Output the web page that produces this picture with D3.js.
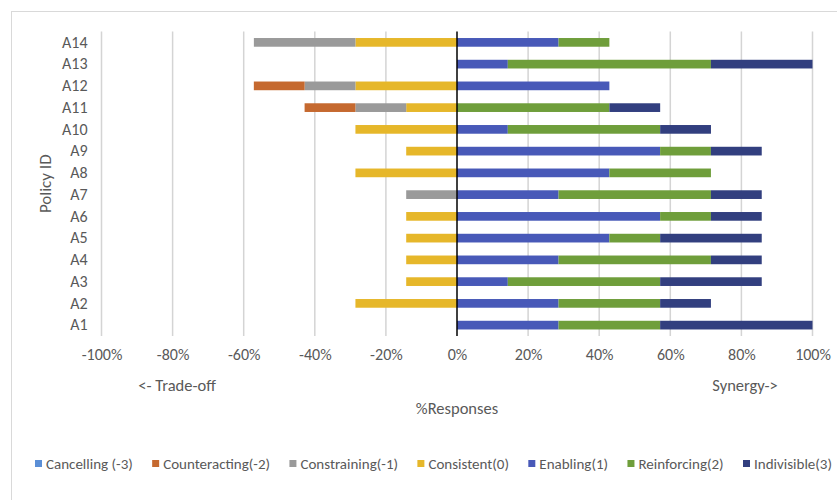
<!DOCTYPE html>
<html>
<head>
<meta charset="utf-8">
<script src="https://cdn.jsdelivr.net/npm/d3@7"></script>
<style>
  html, body { margin: 0; padding: 0; background: #fff; }
  svg text { font-family: Carlito, Lato, "Liberation Sans", sans-serif; fill: #595959; }
</style>
</head>
<body>
<svg id="chart" width="837" height="500"></svg>
<script>
// Policy IDs, bottom (A1) to top (A14)
const policies = ["A1","A2","A3","A4","A5","A6","A7","A8","A9","A10","A11","A12","A13","A14"];

// Share of responses (%) per interaction type, in policy order
const cancelling    = [0, 0, 0, 0, 0, 0, 0, 0, 0, 0, 0, 0, 0, 0];
const counteracting = [0, 0, 0, 0, 0, 0, 0, 0, 0, 0, 14.29, 14.29, 0, 0];
const constraining  = [0, 0, 0, 0, 0, 0, 14.29, 0, 0, 0, 14.29, 14.29, 0, 28.57];
const consistent    = [0, 28.57, 14.29, 14.29, 14.29, 14.29, 0, 28.57, 14.29, 28.57, 14.29, 28.57, 0, 28.57];
const enabling      = [28.57, 28.57, 14.29, 28.57, 42.86, 57.14, 28.57, 42.86, 57.14, 14.29, 0, 42.86, 14.29, 28.57];
const reinforcing   = [28.57, 28.57, 42.86, 42.86, 14.29, 14.29, 42.86, 28.57, 14.29, 42.86, 42.86, 0, 57.14, 14.29];
const indivisible   = [42.86, 14.29, 28.57, 14.29, 28.57, 14.29, 14.29, 0, 14.29, 14.29, 14.29, 0, 28.57, 0];

const xTicks = [-100, -80, -60, -40, -20, 0, 20, 40, 60, 80, 100];

// Negative side stacks outward from zero: Consistent, Constraining, Counteracting, Cancelling
const series = [
  { name: "Cancelling (-3)",   values: cancelling,    color: "#5b8fd6", side: -1, order: 3 },
  { name: "Counteracting(-2)", values: counteracting, color: "#c5692f", side: -1, order: 2 },
  { name: "Constraining(-1)",  values: constraining,  color: "#9a9a9a", side: -1, order: 1 },
  { name: "Consistent(0)",     values: consistent,    color: "#e6b72a", side: -1, order: 0 },
  { name: "Enabling(1)",       values: enabling,      color: "#4859b8", side: 1,  order: 0 },
  { name: "Reinforcing(2)",    values: reinforcing,   color: "#6f9e3b", side: 1,  order: 1 },
  { name: "Indivisible(3)",    values: indivisible,   color: "#323f7f", side: 1,  order: 2 }
];

const svg = d3.select("#chart");

// chart area frame
svg.append("rect")
  .attr("x", 11.5).attr("y", 11.5)
  .attr("width", 900).attr("height", 600)
  .attr("fill", "none").attr("stroke", "#d9d9d9").attr("stroke-width", 1);

const plot = { left: 101.5, right: 812.5, top: 31.5, bottom: 336 };

const x = d3.scaleLinear().domain([-100, 100]).range([plot.left, plot.right]);
const y = d3.scaleBand()
  .domain(policies.slice().reverse())
  .range([plot.top, plot.bottom])
  .paddingInner(0.6).paddingOuter(0.3);

// vertical gridlines
svg.append("g").selectAll("line")
  .data(xTicks.filter(t => t !== 0))
  .join("line")
  .attr("x1", d => x(d)).attr("x2", d => x(d))
  .attr("y1", plot.top).attr("y2", plot.bottom)
  .attr("stroke", "#d4d4d4").attr("stroke-width", 1.5);

// x tick labels
const xAxis = d3.axisBottom(x).tickValues(xTicks).tickFormat(d => d + "%").tickSize(0).tickPadding(0);
const gx = svg.append("g").attr("transform", `translate(0,${plot.bottom + 13})`).call(xAxis);
gx.select(".domain").remove();
gx.selectAll("text").style("font-size", "16px").attr("dy", "0.71em")
  .style("font-family", null).attr("fill", null);

// stacked segments
policies.forEach((p, i) => {
  const cursor = { "-1": 0, "1": 0 };
  ["-1", "1"].forEach(side => {
    series.filter(s => String(s.side) === side)
      .sort((a, b) => a.order - b.order)
      .forEach(s => {
        const v = s.values[i];
        if (!v) return;
        const a = cursor[side];
        const b = a + s.side * v;
        cursor[side] = b;
        svg.append("rect")
          .attr("x", x(Math.min(a, b)))
          .attr("width", x(Math.max(a, b)) - x(Math.min(a, b)))
          .attr("y", y(p))
          .attr("height", y.bandwidth())
          .attr("fill", s.color);
      });
  });
});

// zero line
svg.append("line")
  .attr("x1", x(0)).attr("x2", x(0))
  .attr("y1", plot.top).attr("y2", plot.bottom)
  .attr("stroke", "#000").attr("stroke-width", 1.5);

// y axis labels
const yAxis = d3.axisLeft(y).tickSize(0).tickPadding(14);
const gy = svg.append("g").attr("transform", `translate(${plot.left},0)`).call(yAxis);
gy.select(".domain").remove();
gy.selectAll("text").style("font-size", "16px").style("font-family", null).attr("fill", null);

// axis titles and direction notes
svg.append("text")
  .attr("transform", `translate(51,${(plot.top + plot.bottom) / 2}) rotate(-90)`)
  .attr("text-anchor", "middle")
  .style("font-size", "17px")
  .text("Policy ID");

svg.append("text").attr("x", x(0)).attr("y", 414).attr("text-anchor", "middle")
  .style("font-size", "16.5px").text("%Responses");

svg.append("text").attr("x", 177).attr("y", 391).attr("text-anchor", "middle")
  .style("font-size", "16.5px").text("<- Trade-off");

svg.append("text").attr("x", 745).attr("y", 391).attr("text-anchor", "middle")
  .style("font-size", "16.5px").text("Synergy->");

// legend
const legend = svg.append("g");
const legY = 464;
const items = legend.selectAll("g").data(series).join("g");
items.append("rect").attr("width", 7).attr("height", 7).attr("y", legY - 4)
  .attr("fill", d => d.color);
items.append("text").attr("x", 11).attr("y", legY).attr("dy", "0.35em")
  .style("font-size", "15px").text(d => d.name);

const widths = [];
items.each(function() { widths.push(11 + d3.select(this).select("text").node().getComputedTextLength()); });
const legStart = 35, legEnd = 832;
const total = d3.sum(widths);
const gap = (legEnd - legStart - total) / (series.length - 1);
let cx = legStart;
items.each(function(d, i) {
  d3.select(this).attr("transform", `translate(${cx},0)`);
  cx += widths[i] + gap;
});
</script>
</body>
</html>
